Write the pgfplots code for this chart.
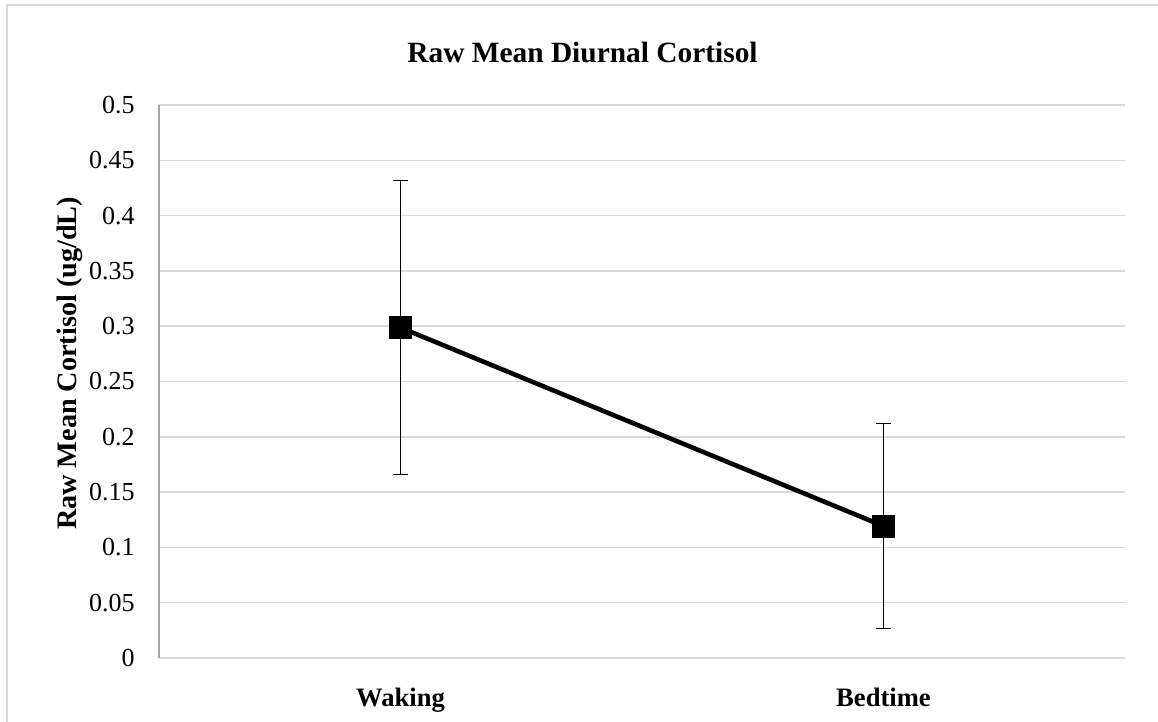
\documentclass[border=0pt]{standalone}
\usepackage{pgfplots}
\pgfplotsset{compat=1.18}
\usepackage{fontspec}
\setmainfont{Liberation Serif}
\definecolor{gridc}{HTML}{D9D9D9}
\definecolor{axc}{HTML}{A6A6A6}
\begin{document}
\begin{tikzpicture}
\begin{scope}
\clip (0pt,0pt) rectangle (579pt,361pt);
\fill[white] (0pt,0pt) rectangle (579pt,361pt);
\draw[gridc, line width=0.8pt] (3.5pt,-20pt) -- (3.5pt,358.5pt) -- (620pt,358.5pt);
\end{scope}
\begin{axis}[
  at={(79.5pt,32pt)}, anchor=south west,
  scale only axis, width=483pt, height=276.5pt,
  xmin=-0.5, xmax=1.5, ymin=0, ymax=0.5,
  xtick={0,1}, xticklabels={Waking,Bedtime},
  ytick={0,0.05,...,0.5},
  yticklabels={0,0.05,0.1,0.15,0.2,0.25,0.3,0.35,0.4,0.45,0.5},
  major tick length=0pt,
  axis lines*=left,
  x axis line style={draw=gridc, line width=0.75pt},
  y axis line style={draw=axc, line width=0.75pt},
  ymajorgrids, grid style={gridc, line width=0.75pt},
  font=\fontsize{13pt}{15pt}\selectfont,
  yticklabel style={anchor=east, inner sep=0pt, xshift=-12pt},
  xticklabel style={anchor=north, inner sep=0pt, yshift=-15pt, font=\fontsize{13.3pt}{15pt}\selectfont\bfseries},
  title={\textbf{Raw Mean Diurnal Cortisol}},
  title style={at={(axis description cs:0.4384,1.0741)}, anchor=center, font=\fontsize{14.7pt}{17pt}\selectfont},
  ylabel={\textbf{Raw Mean Cortisol (ug/dL)}},
  ylabel style={at={(axis description cs:-0.0925,0.5325)}, anchor=center, font=\fontsize{14.1pt}{16pt}\selectfont},
  clip=false,
]
\addplot[black, line width=2.3pt, mark=square*, mark size=5.5pt,
  mark options={solid, line width=0.5pt, fill=black},
  error bars/.cd, y dir=both, y explicit,
  error bar style={line width=0.65pt, black},
  error mark options={rotate=90, mark size=3.75pt, line width=0.65pt, black}]
  coordinates {
  (0,0.2987) +- (0,0.1328)
  (1,0.1193) +- (0,0.0927)
  };
\end{axis}
\end{tikzpicture}
\end{document}
